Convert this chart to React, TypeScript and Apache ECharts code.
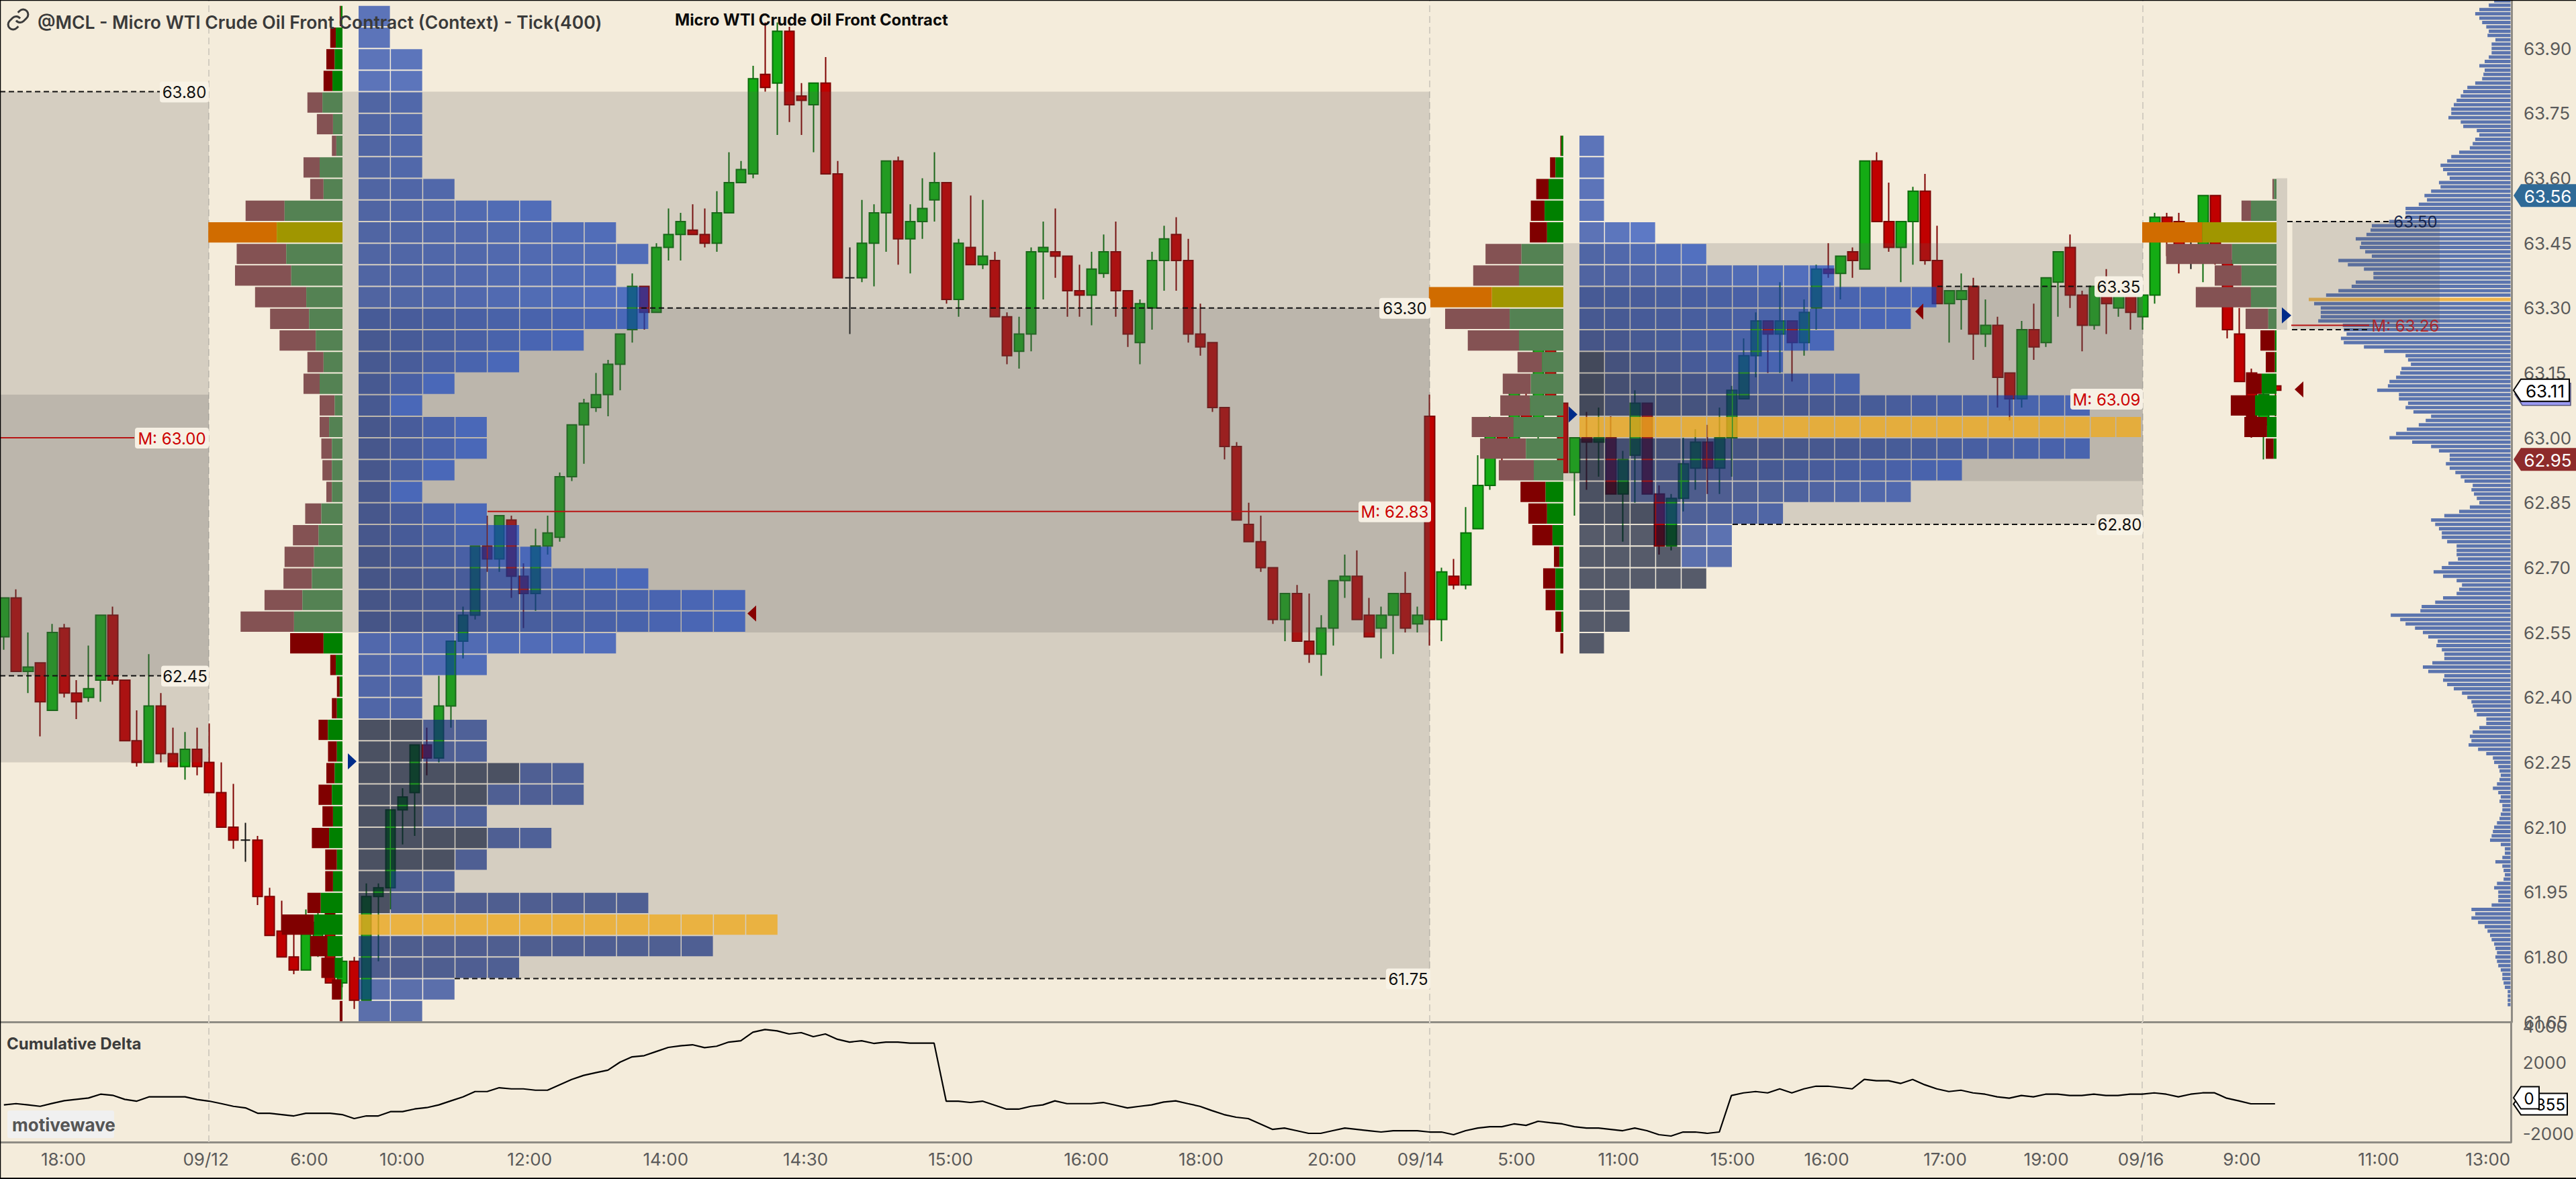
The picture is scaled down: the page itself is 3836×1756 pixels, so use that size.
import React, { useEffect, useRef } from "react";
import * as echarts from "echarts";

const opens = [62.54,62.63,62.46,62.48,62.37,62.56,62.41,62.40,62.44,62.59,62.44,62.30,62.25,62.38,62.27,62.24,62.28,62.25,62.18,62.10,62.07,62.07,61.94,61.86,61.80,61.77,61.82,61.90,61.74,61.79,61.70,61.94,61.96,62.14,62.18,62.29,62.26,62.38,62.53,62.59,62.75,62.72,62.81,62.68,62.64,62.75,62.77,62.91,63.03,63.07,63.10,63.17,63.25,63.35,63.29,63.44,63.47,63.48,63.47,63.45,63.52,63.59,63.61,63.84,63.82,63.94,63.79,63.77,63.82,63.61,63.37,63.37,63.45,63.52,63.64,63.46,63.50,63.55,63.59,63.32,63.44,63.40,63.41,63.28,63.20,63.24,63.43,63.43,63.42,63.34,63.33,63.38,63.43,63.34,63.22,63.30,63.41,63.47,63.41,63.24,63.22,63.07,62.98,62.80,62.76,62.70,62.58,62.64,62.53,62.50,62.56,62.67,62.68,62.59,62.56,62.59,62.64,62.57,63.05,62.58,62.68,62.66,62.79,62.89,63.03,62.98,63.09,63.03,63.21,63.08,62.92,63.00,62.99,63.00,62.87,62.96,63.08,62.87,62.75,62.86,62.93,62.99,62.93,63.00,63.09,63.19,63.27,63.24,63.27,63.22,63.30,63.39,63.38,63.43,63.39,63.64,63.50,63.44,63.50,63.57,63.41,63.31,63.32,63.35,63.24,63.26,63.15,63.09,63.25,63.22,63.36,63.44,63.33,63.26,63.34,63.30,63.33,63.28,63.33,63.51,63.50,63.41,63.41,63.56,63.41,63.24,63.15,63.03,63.12];
const closes = [62.63,62.46,62.47,62.39,62.55,62.41,62.39,62.42,62.59,62.44,62.30,62.25,62.38,62.27,62.24,62.28,62.24,62.18,62.10,62.07,62.07,61.94,61.85,61.80,61.77,61.86,61.88,61.74,61.79,61.70,61.94,61.96,62.14,62.17,62.29,62.26,62.38,62.53,62.59,62.75,62.72,62.82,62.68,62.64,62.75,62.78,62.91,63.03,63.08,63.10,63.17,63.24,63.35,63.29,63.44,63.47,63.50,63.47,63.45,63.52,63.59,63.62,63.83,63.81,63.94,63.77,63.78,63.82,63.61,63.37,63.37,63.45,63.52,63.64,63.46,63.50,63.53,63.59,63.32,63.45,63.40,63.42,63.28,63.19,63.24,63.43,63.44,63.42,63.34,63.33,63.39,63.43,63.34,63.24,63.31,63.41,63.46,63.41,63.24,63.21,63.07,62.98,62.81,62.76,62.70,62.58,62.64,62.53,62.50,62.56,62.67,62.68,62.58,62.54,62.59,62.64,62.56,62.59,62.58,62.69,62.66,62.78,62.89,63.02,62.98,63.12,63.04,63.21,63.09,62.92,63.00,62.99,63.00,62.87,62.95,63.08,62.87,62.75,62.86,62.94,62.99,62.93,63.00,63.11,63.19,63.27,63.24,63.27,63.22,63.29,63.39,63.38,63.42,63.41,63.64,63.50,63.44,63.50,63.57,63.41,63.31,63.34,63.34,63.24,63.26,63.14,63.09,63.25,63.21,63.37,63.43,63.33,63.26,63.35,63.31,63.33,63.29,63.33,63.51,63.49,63.41,63.41,63.56,63.41,63.25,63.13,63.05,63.10,63.11];
const lows = [62.51,62.46,62.41,62.31,62.37,62.40,62.35,62.39,62.39,62.43,62.30,62.24,62.25,62.25,62.24,62.21,62.22,62.18,62.10,62.05,62.02,61.92,61.85,61.80,61.76,61.77,61.80,61.74,61.73,61.68,61.70,61.79,61.91,62.06,62.08,62.22,62.25,62.33,62.49,62.58,62.69,62.69,62.63,62.56,62.60,62.73,62.76,62.90,62.94,63.06,63.05,63.11,63.22,63.25,63.29,63.41,63.41,63.47,63.44,63.43,63.52,63.59,63.60,63.80,63.70,63.73,63.70,63.66,63.61,63.37,63.24,63.36,63.35,63.43,63.40,63.38,63.46,63.50,63.31,63.28,63.40,63.39,63.28,63.17,63.16,63.20,63.32,63.37,63.28,63.28,63.26,63.37,63.28,63.21,63.17,63.25,63.34,63.34,63.22,63.19,63.06,62.95,62.81,62.76,62.69,62.57,62.53,62.53,62.48,62.45,62.52,62.63,62.58,62.54,62.49,62.50,62.55,62.55,62.52,62.53,62.65,62.65,62.79,62.88,62.94,62.97,63.03,62.99,63.08,62.92,62.82,62.88,62.91,62.87,62.76,62.85,62.87,62.73,62.74,62.83,62.88,62.87,62.87,62.91,63.09,63.14,63.15,63.15,63.13,63.19,63.25,63.37,63.32,63.37,63.39,63.50,63.43,63.36,63.40,63.40,63.31,63.22,63.25,63.18,63.21,63.07,63.04,63.07,63.18,63.21,63.28,63.30,63.20,63.25,63.24,63.28,63.25,63.25,63.31,63.42,63.38,63.39,63.36,63.40,63.23,63.13,63.00,62.95,63.05];
const highs = [62.63,62.65,62.55,62.48,62.57,62.57,62.44,62.52,62.59,62.61,62.44,62.37,62.50,62.41,62.33,62.32,62.33,62.34,62.25,62.20,62.11,62.08,61.96,61.93,61.855,61.91,61.905,61.91,61.80,61.80,61.97,61.97,62.14,62.19,62.29,62.33,62.45,62.53,62.61,62.75,62.82,62.82,62.82,62.71,62.79,62.82,62.92,63.03,63.09,63.15,63.18,63.24,63.38,63.35,63.45,63.53,63.52,63.54,63.53,63.57,63.66,63.64,63.86,63.96,63.96,63.95,63.82,63.82,63.88,63.64,63.44,63.55,63.54,63.64,63.65,63.54,63.60,63.66,63.59,63.46,63.56,63.55,63.43,63.29,63.28,63.44,63.50,63.53,63.42,63.40,63.43,63.47,63.50,63.34,63.32,63.43,63.49,63.51,63.46,63.31,63.22,63.07,62.99,62.85,62.82,62.70,62.64,62.66,62.64,62.59,62.67,62.73,62.74,62.63,62.61,62.64,62.69,62.61,63.10,62.70,62.72,62.84,62.96,63.05,63.04,63.13,63.12,63.23,63.22,63.09,63.00,63.06,63.07,63.05,62.97,63.11,63.08,62.89,62.87,63.00,63.02,63.03,63.07,63.12,63.23,63.29,63.27,63.36,63.27,63.32,63.40,63.45,63.42,63.44,63.64,63.66,63.59,63.50,63.58,63.61,63.49,63.34,63.38,63.37,63.32,63.28,63.15,63.27,63.31,63.37,63.43,63.47,63.34,63.35,63.39,63.33,63.33,63.33,63.52,63.52,63.52,63.46,63.56,63.56,63.42,63.30,63.16,63.11,63.13];

const cumDelta = [-400,-330,-400,-480,-315,-165,-90,-15,200,140,-90,-190,50,50,50,50,-100,-190,-330,-480,-570,-870,-870,-945,-1020,-870,-870,-870,-945,-1170,-1020,-1020,-780,-780,-630,-555,-400,-175,50,350,350,565,500,500,425,425,730,1030,1260,1410,1550,2000,2300,2365,2600,2830,2920,2980,2815,2895,3130,3205,3685,3835,3760,3585,3660,3435,3585,3285,3130,3205,3055,3130,3130,3070,3070,3070,-190,-190,-265,-190,-415,-640,-640,-480,-400,-175,-330,-330,-330,-265,-415,-570,-480,-400,-240,-175,-330,-480,-720,-945,-1095,-1170,-1470,-1775,-1700,-1850,-2000,-2000,-1850,-1700,-1775,-1850,-1925,-1850,-1850,-1850,-1925,-1925,-2075,-1850,-1700,-1625,-1625,-1470,-1550,-1320,-1400,-1470,-1625,-1700,-1700,-1775,-1850,-1700,-1850,-2075,-2150,-1925,-1925,-2000,-1925,125,275,350,275,500,275,500,650,650,575,500,1030,955,955,805,1030,730,500,350,425,275,200,50,-25,125,50,200,200,125,125,200,125,125,200,200,275,200,50,200,275,275,-25,-175,-340,-340,-340];

const compVolume = [52,69,99,112,99,90,77,69,73,48,60,60,60,69,82,99,82,86,90,112,137,150,158,171,180,188,188,197,158,150,107,99,112,120,129,163,188,201,222,214,201,193,227,222,252,273,265,291,333,333,333,385,440,444,457,491,474,478,461,440,546,516,465,435,435,491,504,546,585,640,623,602,602,602,610,532,529,520,538,529,465,401,333,325,316,346,350,363,384,389,423,354,354,325,333,308,252,269,291,329,363,384,312,252,227,193,193,205,193,175,158,146,120,124,116,107,99,129,163,210,252,239,227,218,218,201,171,171,171,167,197,218,244,214,171,154,163,171,214,239,282,286,380,350,333,303,278,261,231,235,218,210,210,248,278,261,210,214,201,180,154,137,124,120,116,107,77,77,99,120,129,124,133,103,77,56,52,39,35,31,35,43,56,39,31,35,26,26,31,35,43,52,56,60,65,31,18,18,26,48,26,22,18,22,43,52,39,39,39,60,124,112,124,103,82,73,65,60,52,48,43,48,43,39,31,26,26,22,18,9,9,9,9];
const compTopPrice = 64.01;
const compPocRow = 69;

const cellsB = [1,1,2,2,2,2,2,2,3,6,8,9,8,9,9,7,5,3,2,4,4,3,2,4,5,6,9,12,12,8,4,2,2,4,4,7,7,4,6,4,3,9,13,11,5,3,2];
const sellB = [2,10,15,16,27,29,8,29,24,70,123,89,101,92,70,65,29,29,27,17,19,17,10,29,46,53,51,68,96,60,10,5,9,17,16,15,24,19,31,21,14,24,58,31,24,17,5];
const buyB = [3,12,14,18,36,17,11,41,34,104,118,101,92,65,60,48,34,41,14,24,19,19,19,38,43,51,55,72,87,34,12,5,10,26,10,14,19,17,24,10,17,39,51,27,14,2,0];
const grayB = [0,0,0,0,0,0,0,0,0,0,0,0,0,0,0,0,0,0,0,0,0,0,0,0,0,0,0,0,0,0,0,0,0,2,2,5,4,2,4,3,1,1,0,0,0,0,0];
const toneLB = [.84,.84,.84,.84,.68,.68,.68,.68,.68,.68,.68,.68,.68,.66,.62,.55,.55,.55,.55,.5,.5,.5,.5,.5,.5,.45,.45,.45,.45,.78,.72,.72,.72,.5,.5,.5,.5,.5,.5,.5,.5,.45,.45,.45,.45,.68,.68];
const toneRB = [.86,.86,.86,.86,.76,.76,.76,.76,.76,.92,.92,.92,.92,1,1,1,1,1,1,1,1,1,1,1,1,1,1,1,1,.95,.92,.72,.72,.55,.55,.55,.55,.55,.55,.55,.55,.5,.5,.5,.5,.68,.68];

const cellsC = [1,1,1,1,3,5,10,14,13,10,8,11,20,22,20,15,13,8,6,6,5,2,2,1];
const sellC = [2,11,25,28,35,73,93,128,131,104,50,57,60,85,93,71,51,38,41,11,25,20,12,6];
const buyC = [4,16,30,38,33,85,90,145,109,90,43,66,68,101,76,60,36,33,22,8,16,16,4,0];
const grayC = [0,0,0,0,0,0,0,0,0,0,1,1,1,0,1,1,2,3,4,4,5,2,2,1];
const toneLC = [.84,.84,.84,.84,.8,.7,.65,.6,.55,.45,.35,.25,.25,.25,.25,.3,.35,.5,.6,.7,.7,.7,.7,.7];
const toneRC = [.86,.86,.86,.86,.98,1,1,1,1,1,.9,.85,.95,.95,.88,.9,.8,.7,.75,.7,.7,.7,.7,.7];

const sellD = [5,30,191,209,85,175,72,46,29,49,77,72,25];
const buyD = [8,81,235,141,111,81,26,5,5,47,68,30,9];

const priceTicks = [61.65,61.8,61.95,62.1,62.25,62.4,62.55,62.7,62.85,63,63.15,63.3,63.45,63.6,63.75,63.9];
const deltaTicks = [-2000,2000,4000];
const timeBars = [4.93,16.72,25.27,32.96,43.52,54.78,66.36,78.37,89.6,99.09,109.93,117.27,125.21,133.66,143.1,150.88,160.69,169.06,176.9,185.26,196.57,205.62];
const timeLabels = ["18:00","09/12","6:00","10:00","12:00","14:00","14:30","15:00","16:00","18:00","20:00","09/14","5:00","11:00","15:00","16:00","17:00","19:00","09/16","9:00","11:00","13:00"];

const BG = "#F4ECDB";
const FONT = "Inter, 'Noto Sans', sans-serif";
const X = (px: number) => (px - 5.8) / 17.995;
const ROW = 0.05;

echarts.graphic.registerShape(
  "chainLink",
  echarts.graphic.extendPath("M10 13a5 5 0 0 0 7.54.54l3-3a5 5 0 0 0-7.07-7.07l-1.72 1.71M14 11a5 5 0 0 0-7.54-.54l-3 3a5 5 0 0 0 7.07 7.07l1.71-1.71", {})
);

function mix(a: number[], b: number[], t: number) {
  return a.map((v, i) => Math.round(v + (b[i] - v) * t));
}
function cellColor(t: number) {
  const navy = [7, 18, 46], mid = [13, 40, 124], blue = [18, 65, 190];
  const c = t < 0.5 ? mix(navy, mid, t / 0.5) : mix(mid, blue, (t - 0.5) / 0.5);
  return `rgba(${c[0]},${c[1]},${c[2]},0.67)`;
}

type CellItem = { x: number; w: number; low: number; fill: string };
function buildCells(top: number, cells: number[], gray: number[], toneL: number[], toneR: number[], startPx: number, cellPx: number, poc: number) {
  const out: CellItem[] = [];
  cells.forEach((n, r) => {
    const low = top - ROW * (r + 1);
    for (let j = 0; j < n; j++) {
      let fill = "rgba(240,170,30,0.78)";
      if (r !== poc) {
        if (j < gray[r]) fill = cellColor(0.03);
        else {
          const d = Math.max(n - gray[r] - 1, 1);
          fill = cellColor(toneL[r] + (toneR[r] - toneL[r]) * ((j - gray[r]) / d));
        }
      }
      out.push({ x: startPx + j * cellPx, w: cellPx, low, fill });
    }
  });
  return out;
}
const cellItems = [
  ...buildCells(64.0, cellsB, grayB, toneLB, toneRB, 534, 48.1, 42),
  ...buildCells(63.7, cellsC, grayC, toneLC, toneRC, 2352, 38.07, 13),
];

type DeltaItem = { anchor: number; low: number; sell: number; buy: number; sellFill: string; buyFill: string };
function buildDelta(top: number, sell: number[], buy: number[], anchor: number, scale: number, vaTop: number, vaLow: number, poc: number) {
  return sell.map((s, r): DeltaItem => {
    const low = +(top - ROW * (r + 1)).toFixed(2);
    const muted = low < vaTop - 0.001 && low >= vaLow - 0.001;
    return {
      anchor, low, sell: s / scale, buy: buy[r] / scale,
      sellFill: r === poc ? "#D06C00" : muted ? "#845253" : "#800000",
      buyFill: r === poc ? "#A09600" : muted ? "#548253" : "#008000",
    };
  });
}
const deltaItems = [
  ...buildDelta(64.0, sellB, buyB, 510, 1.206, 63.8, 62.55, 10),
  ...buildDelta(63.7, sellC, buyC, 2328, 1.3635, 63.45, 62.9, 7),
  ...buildDelta(63.6, sellD, buyD, 3390, 2.13, 63.6, 63.25, 2),
];

const boxes = [
  [0, 63.8, 311, 62.25], [0, 63.1, 311, 62.45],
  [510, 63.8, 534, 62.55], [534, 63.8, 2129, 61.75], [534, 63.3, 2129, 62.55],
  [2328, 63.45, 2352, 62.9], [2352, 63.45, 3191, 62.8], [2352, 63.35, 3191, 62.9],
  [3390, 63.6, 3406, 63.25], [3413.6, 63.5, 3633, 63.25],
];
const levels = [
  { a: 0, b: 238, p: 63.8, red: false }, { a: 0, b: 240, p: 62.45, red: false }, { a: 0, b: 200, p: 63.0, red: true },
  { a: 955, b: 2054, p: 63.3, red: false }, { a: 726, b: 2023, p: 62.83, red: true }, { a: 677, b: 2064, p: 61.75, red: false },
  { a: 2885, b: 3119, p: 63.35, red: false }, { a: 2580, b: 3119, p: 62.8, red: false },
  { a: 3406, b: 3558, p: 63.5, red: false }, { a: 3412, b: 3528, p: 63.26, red: true }, { a: 3413, b: 3528, p: 63.25, red: false },
];
const boxedLabels = [
  { l: 238, r: 311, p: 63.8, t: "63.80", red: false }, { l: 240, r: 311, p: 62.45, t: "62.45", red: false }, { l: 201, r: 311, p: 63.0, t: "M: 63.00", red: true },
  { l: 2054, r: 2130, p: 63.3, t: "63.30", red: false }, { l: 2023, r: 2131, p: 62.83, t: "M: 62.83", red: true }, { l: 2064, r: 2130, p: 61.75, t: "61.75", red: false },
  { l: 3119, r: 3191, p: 63.35, t: "63.35", red: false }, { l: 3083, r: 3191, p: 63.09, t: "M: 63.09", red: true }, { l: 3122, r: 3191, p: 62.8, t: "62.80", red: false },
];
const plainLabels = [
  { c: 3597, p: 63.5, t: "63.50", fill: "#16264F" }, { c: 3582, p: 63.26, t: "M: 63.26", fill: "#A8262E" },
];
const triangles = [
  { l: 518, r: 531, p: 62.252, right: true }, { l: 1113, r: 1126, p: 62.594, right: false },
  { l: 2336, r: 2349, p: 63.054, right: true }, { l: 2852, r: 2864, p: 63.292, right: false },
  { l: 3398, r: 3412, p: 63.283, right: true }, { l: 3417, r: 3430, p: 63.112, right: false },
];

function shapeRect(api: any, x1: number, p1: number, x2: number, p2: number) {
  const a = api.coord([x1, p1]), b = api.coord([x2, p2]);
  return { x: a[0], y: a[1], width: b[0] - a[0], height: b[1] - a[1] };
}

function tag(api: any, value: number, text: string, opts: any) {
  const y = api.coord([0, value])[1];
  const h = opts.h / 2, x0 = 3743, x1 = x0 + (opts.neck || 11), x2 = opts.right;
  const pts = [[x0, y], [x1, y - h], [x2, y - h], [x2, y + h], [x1, y + h]];
  const children: any[] = [];
  if (opts.shadow) children.push({ type: "polygon", shape: { points: pts.map((q) => [q[0] + 2, q[1] + 6]) }, style: { fill: opts.shadow, stroke: "#55557A", lineWidth: 1.5 } });
  children.push({ type: "polygon", shape: { points: pts }, style: { fill: opts.fill, stroke: opts.stroke, lineWidth: opts.stroke === "none" ? 0 : 2 } });
  children.push({ type: "text", style: { text, x: opts.tx, y: y + 1, fill: opts.color, font: `${opts.size || 26}px ${FONT}`, align: opts.align || "center", verticalAlign: "middle" } });
  return { type: "group", children };
}

const priceTags = [
  { v: 63.11, t: "63.11", o: { h: 33, right: 3826, fill: "#FFFFFF", stroke: "#000", color: "#000", tx: 3790, shadow: "#9A9AF2" } },
  { v: 63.56, t: "63.56", o: { h: 34, right: 3836, fill: "#2F6A97", stroke: "none", color: "#fff", tx: 3794 } },
  { v: 62.95, t: "62.95", o: { h: 34, right: 3836, fill: "#8E2B2B", stroke: "none", color: "#fff", tx: 3794 } },
];
const deltaTags = [
  { v: -355, t: "-355", o: { h: 32, right: 3823, fill: "#FFFFFF", stroke: "#000", color: "#000", tx: 3820, align: "right", size: 24 } },
  { v: 0, t: "0", o: { h: 33, right: 3781, fill: "#FFFFFF", stroke: "#000", color: "#000", tx: 3766, size: 24 } },
];

const sharedAxisX = { type: "value", min: X(0), max: X(3740), splitLine: { show: false }, axisTick: { show: false } };
const vDates = [X(311), X(2129), X(3191)];
const vLine = {
  silent: true, symbol: "none", z: 1, label: { show: false },
  lineStyle: { color: "#D3CDC1", width: 2, type: [10, 6], opacity: 1 },
  data: vDates.map((v) => ({ xAxis: v })),
};

function buildOption(): any {
  return {
    animation: false,
    backgroundColor: BG,
    textStyle: { fontFamily: FONT },
    grid: [
      { left: 0, top: 0, width: 3740, height: 1522, containLabel: false },
      { left: 0, top: 1522, width: 3740, height: 179, containLabel: false },
    ],
    xAxis: [
      { ...sharedAxisX, gridIndex: 0, axisLabel: { show: false }, axisLine: { show: true, onZero: false, lineStyle: { color: "#8F8C84", width: 3 } } },
      {
        ...sharedAxisX, gridIndex: 1,
        axisLine: { show: true, onZero: false, lineStyle: { color: "#8F8C84", width: 3 } },
        axisLabel: {
          show: true, customValues: timeBars, margin: 12, color: "#5A5A5A", fontSize: 26, fontFamily: FONT,
          formatter: (v: number) => timeLabels[timeBars.indexOf(v)] ?? "",
        },
      },
    ],
    yAxis: [
      {
        type: "value", gridIndex: 0, position: "right", min: 61.65, max: 64.012, splitLine: { show: false }, axisTick: { show: false },
        axisLine: { show: true, onZero: false, lineStyle: { color: "#8F8C84", width: 3 } },
        axisLabel: { customValues: priceTicks, margin: 18, align: "left", color: "#5A5A5A", fontSize: 26, fontFamily: FONT, formatter: (v: number) => v.toFixed(2) },
      },
      {
        type: "value", gridIndex: 1, position: "right", min: -2490, max: 4264, splitLine: { show: false }, axisTick: { show: false },
        axisLine: { show: true, onZero: false, lineStyle: { color: "#8F8C84", width: 3 } },
        axisLabel: { customValues: deltaTicks, margin: 18, align: "left", color: "#5A5A5A", fontSize: 26, fontFamily: FONT, formatter: (v: number) => String(v) },
      },
    ],
    series: [
      {
        name: "composite", type: "custom", z: 1, xAxisIndex: 0, yAxisIndex: 0,
        data: compVolume.map((v, i) => [v, +(compTopPrice - i * 0.01).toFixed(2)]),
        encode: { y: 1 },
        markLine: vLine,
        renderItem: (params: any, api: any) => {
          const v = api.value(0), p = api.value(1);
          const y = api.coord([0, p])[1];
          const right = 3738.5, w = v / 2.13;
          return {
            type: "rect", shape: { x: right - w, y: y - 2.5, width: w, height: 5 },
            style: { fill: params.dataIndex === compPocRow ? "#F0B64D" : "rgba(64,95,166,0.85)" },
          };
        },
      },
      {
        name: "price", type: "candlestick", z: 2, xAxisIndex: 0, yAxisIndex: 0, barWidth: 15,
        data: opens.map((o, i) => [i, o, closes[i], lows[i], highs[i]]),
        itemStyle: { color: "#14AC14", color0: "#C00000", borderColor: "#0B6B0B", borderColor0: "#7E0000", borderColorDoji: "#111111", borderWidth: 2 },
      },
      {
        name: "boxes", type: "custom", z: 3, xAxisIndex: 0, yAxisIndex: 0,
        data: boxes.map((b) => [X(b[0]), b[1], X(b[2]), b[3]]),
        encode: { x: [0, 2], y: [1, 3] },
        renderItem: (_: any, api: any) => ({
          type: "rect", shape: shapeRect(api, api.value(0), api.value(1), api.value(2), api.value(3)),
          style: { fill: "rgba(90,90,90,0.2)" },
        }),
      },
      {
        name: "cells", type: "custom", z: 4, xAxisIndex: 0, yAxisIndex: 0,
        data: cellItems.map((c) => [X(c.x), c.low, X(c.x + c.w), c.low + ROW]),
        encode: { x: [0, 2], y: [1, 3] },
        renderItem: (params: any, api: any) => {
          const s = shapeRect(api, api.value(0), api.value(3), api.value(2), api.value(1));
          return { type: "rect", shape: { x: s.x, y: s.y + 1, width: s.width - 1.5, height: s.height - 2 }, style: { fill: cellItems[params.dataIndex].fill } };
        },
      },
      {
        name: "delta", type: "custom", z: 5, xAxisIndex: 0, yAxisIndex: 0,
        data: deltaItems.map((d) => [X(d.anchor), d.low]),
        encode: { x: 0, y: 1 },
        renderItem: (params: any, api: any) => {
          const d = deltaItems[params.dataIndex];
          const a = api.coord([api.value(0), api.value(1) + ROW]);
          const b = api.coord([api.value(0), api.value(1)]);
          const y = a[1] + 1, h = b[1] - a[1] - 2, x = a[0];
          return {
            type: "group",
            children: [
              { type: "rect", shape: { x: x - d.buy - d.sell, y, width: d.sell, height: h }, style: { fill: d.sellFill } },
              { type: "rect", shape: { x: x - d.buy, y, width: d.buy, height: h }, style: { fill: d.buyFill } },
            ],
          };
        },
      },
      {
        name: "levels", type: "custom", z: 6, xAxisIndex: 0, yAxisIndex: 0,
        data: levels.map((l) => [X(l.a), l.p, X(l.b)]),
        encode: { x: [0, 2], y: 1 },
        renderItem: (params: any, api: any) => {
          const a = api.coord([api.value(0), api.value(1)]), b = api.coord([api.value(2), api.value(1)]);
          const red = levels[params.dataIndex].red;
          return {
            type: "line", shape: { x1: a[0], y1: a[1], x2: b[0], y2: b[1] },
            style: { stroke: red ? "#B81414" : "#111", lineWidth: 2, lineDash: red ? null : [8, 5] },
          };
        },
      },
      {
        name: "triangles", type: "custom", z: 6, xAxisIndex: 0, yAxisIndex: 0,
        data: triangles.map((t) => [X(t.l), t.p, X(t.r)]),
        encode: { x: [0, 2], y: 1 },
        renderItem: (params: any, api: any) => {
          const a = api.coord([api.value(0), api.value(1)]), b = api.coord([api.value(2), api.value(1)]);
          const t = triangles[params.dataIndex];
          const pts = t.right ? [[a[0], a[1] - 12], [b[0], a[1]], [a[0], a[1] + 12]] : [[b[0], a[1] - 12], [a[0], a[1]], [b[0], a[1] + 12]];
          return { type: "polygon", shape: { points: pts }, style: { fill: t.right ? "#002C8A" : "#870000" } };
        },
      },
      {
        name: "labels", type: "custom", z: 7, xAxisIndex: 0, yAxisIndex: 0,
        data: boxedLabels.map((l) => [X(l.l), l.p, X(l.r)]),
        encode: { x: [0, 2], y: 1 },
        renderItem: (params: any, api: any) => {
          const l = boxedLabels[params.dataIndex];
          const a = api.coord([api.value(0), api.value(1)]), b = api.coord([api.value(2), api.value(1)]);
          return {
            type: "group",
            children: [
              { type: "rect", shape: { x: a[0], y: a[1] - 15, width: b[0] - a[0], height: 31, r: 4 }, style: { fill: "rgba(248,242,230,0.96)" } },
              { type: "text", style: { text: l.t, x: (a[0] + b[0]) / 2, y: a[1] + 1, fill: l.red ? "#CC0000" : "#111", font: `24px ${FONT}`, align: "center", verticalAlign: "middle" } },
            ],
          };
        },
      },
      {
        name: "plainLabels", type: "custom", z: 7, xAxisIndex: 0, yAxisIndex: 0,
        data: plainLabels.map((l) => [X(l.c), l.p]),
        encode: { x: 0, y: 1 },
        renderItem: (params: any, api: any) => {
          const l = plainLabels[params.dataIndex];
          const a = api.coord([api.value(0), api.value(1)]);
          return { type: "text", style: { text: l.t, x: a[0], y: a[1] + 1, fill: l.fill, font: `24px ${FONT}`, align: "center", verticalAlign: "middle" } };
        },
      },
      {
        name: "priceTags", type: "custom", z: 9, xAxisIndex: 0, yAxisIndex: 0,
        data: priceTags.map((t) => [0, t.v]),
        encode: { x: 0, y: 1 },
        renderItem: (params: any, api: any) => {
          const t = priceTags[params.dataIndex];
          return tag(api, api.value(1), t.t, t.o);
        },
      },
      {
        name: "Cumulative Delta", type: "line", z: 3, xAxisIndex: 1, yAxisIndex: 1, showSymbol: false,
        data: cumDelta.map((v, i) => [i, v]),
        lineStyle: { color: "#000", width: 2.2 },
        markLine: vLine,
      },
      {
        name: "deltaTags", type: "custom", z: 9, xAxisIndex: 1, yAxisIndex: 1,
        data: deltaTags.map((t) => [0, t.v]),
        encode: { x: 0, y: 1 },
        renderItem: (params: any, api: any) => {
          const t = deltaTags[params.dataIndex];
          return tag(api, api.value(1), t.t, t.o);
        },
      },
    ],
    graphic: [
      { type: "line", z: 100, shape: { x1: 0.5, y1: 0, x2: 0.5, y2: 1756 }, style: { stroke: "#000", lineWidth: 1.5 } },
      { type: "line", z: 100, shape: { x1: 0, y1: 0.5, x2: 3836, y2: 0.5 }, style: { stroke: "#000", lineWidth: 1.5 } },
      { type: "line", z: 100, shape: { x1: 0, y1: 1755, x2: 3836, y2: 1755 }, style: { stroke: "#000", lineWidth: 2 } },
      { type: "chainLink", z: 100, x: 9, y: 11, scaleX: 1.5, scaleY: 1.5, style: { fill: "none", stroke: "#3C3C3C", lineWidth: 2 } },
      { type: "text", z: 100, x: 56, y: 33, style: { text: "@MCL - Micro WTI Crude Oil Front Contract (Context) - Tick(400)", font: `600 26.5px ${FONT}`, fill: "#3A3A3A", verticalAlign: "middle" } },
      { type: "text", z: 100, x: 1005, y: 29, style: { text: "Micro WTI Crude Oil Front Contract", font: `700 23.8px ${FONT}`, fill: "#0A0A0A", verticalAlign: "middle" } },
      { type: "text", z: 100, x: 10, y: 1554, style: { text: "Cumulative Delta", font: `700 24px ${FONT}`, fill: "#3C3C3C", verticalAlign: "middle" } },
      { type: "rect", z: 100, shape: { x: 11, y: 1654, width: 159, height: 41, r: 3 }, style: { fill: "#F0F0F0" } },
      { type: "text", z: 101, x: 18, y: 1675, style: { text: "motivewave", font: `700 26px ${FONT}`, fill: "#555555", verticalAlign: "middle" } },
    ],
  };
}

export default function App() {
  const ref = useRef<HTMLDivElement | null>(null);
  useEffect(() => {
    document.body.style.margin = "0";
    document.body.style.background = BG;
    if (!ref.current) return;
    const chart = echarts.init(ref.current, undefined, { renderer: "svg" });
    chart.setOption(buildOption());
    return () => chart.dispose();
  }, []);
  return <div ref={ref} style={{ position: "absolute", left: 0, top: 0, width: 3836, height: 1756, overflow: "hidden" }} />;
}
